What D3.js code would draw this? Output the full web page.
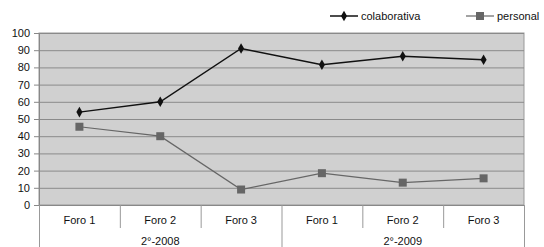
<!DOCTYPE html>
<html>
<head>
<script src="https://d3js.org/d3.v7.min.js"></script>
<style>
body { margin: 0; background: #fff; }
text { font-family: "Liberation Sans", Arial, sans-serif; font-size: 11px; fill: #111; }
</style>
</head>
<body>
<script>
// chart data
var foros = ["Foro 1", "Foro 2", "Foro 3", "Foro 1", "Foro 2", "Foro 3"];
var groups = ["2°-2008", "2°-2009"];
var colaborativa = [54, 60, 91, 81.5, 86.5, 84.5];
var personal = [45.5, 40, 9, 18.5, 13, 15.5];
var yTicks = [0, 10, 20, 30, 40, 50, 60, 70, 80, 90, 100];

var width = 544, height = 247;
var plotL = 39, plotR = 524, plotT = 33, plotB = 205;

var svg = d3.select("body").append("svg")
    .attr("width", width)
    .attr("height", height);

var x = d3.scaleBand().domain(d3.range(foros.length)).range([plotL, plotR]);
var y = d3.scaleLinear().domain([0, 100]).range([plotB, plotT]);

// plot background
svg.append("rect")
    .attr("x", plotL).attr("y", plotT)
    .attr("width", plotR - plotL).attr("height", plotB - plotT)
    .attr("fill", "#d0d0d0")
    .attr("stroke", "#999");

// grid lines
svg.selectAll(".grid").data(yTicks).enter().append("line")
    .attr("x1", plotL).attr("x2", plotR)
    .attr("y1", function(d) { return y(d) + 0.5; })
    .attr("y2", function(d) { return y(d) + 0.5; })
    .attr("stroke", "#8a8a8a")
    .attr("stroke-width", 1);

// y axis
var yAxis = d3.axisLeft(y).tickValues(yTicks).tickSize(5).tickPadding(4);
var ga = svg.append("g").attr("transform", "translate(" + plotL + ",0)").call(yAxis);
ga.select(".domain").attr("stroke", "#888");
ga.selectAll(".tick line").attr("stroke", "#888");
ga.selectAll("text").style("font-size", "11px").attr("fill", "#111");

// x axis category separators
svg.append("line").attr("x1", plotL).attr("x2", plotR)
    .attr("y1", plotB + 0.5).attr("y2", plotB + 0.5).attr("stroke", "#888");
svg.selectAll(".sep").data(d3.range(foros.length + 1)).enter().append("line")
    .attr("x1", function(i) { return (i < foros.length ? x(i) : plotR) + 0.5; })
    .attr("x2", function(i) { return (i < foros.length ? x(i) : plotR) + 0.5; })
    .attr("y1", plotB)
    .attr("y2", function(i) { return i % 3 == 0 ? height : 228; })
    .attr("stroke", "#999");

svg.selectAll(".cat").data(foros).enter().append("text")
    .attr("x", function(d, i) { return x(i) + x.bandwidth() / 2; })
    .attr("y", 224)
    .attr("text-anchor", "middle")
    .text(function(d) { return d; });

svg.selectAll(".grp").data(groups).enter().append("text")
    .attr("x", function(d, i) { return x(i * 3) + x.bandwidth() * 1.5; })
    .attr("y", 245)
    .attr("text-anchor", "middle")
    .text(function(d) { return d; });

// lines
var line = d3.line()
    .x(function(d, i) { return x(i) + x.bandwidth() / 2; })
    .y(function(d) { return y(d); });

svg.append("path").datum(personal)
    .attr("d", line).attr("fill", "none")
    .attr("stroke", "#666").attr("stroke-width", 1.2);
svg.selectAll(".pm").data(personal).enter().append("rect")
    .attr("x", function(d, i) { return x(i) + x.bandwidth() / 2 - 4; })
    .attr("y", function(d) { return y(d) - 4; })
    .attr("width", 8).attr("height", 8)
    .attr("fill", "#666");

svg.append("path").datum(colaborativa)
    .attr("d", line).attr("fill", "none")
    .attr("stroke", "#111").attr("stroke-width", 1.5);
var diamond = d3.symbol().type(d3.symbolDiamond).size(32);
svg.selectAll(".cm").data(colaborativa).enter().append("path")
    .attr("d", diamond)
    .attr("transform", function(d, i) {
        return "translate(" + (x(i) + x.bandwidth() / 2) + "," + y(d) + ")";
    })
    .attr("fill", "#111");

// legend
var lg = svg.append("g");
lg.append("line").attr("x1", 330).attr("x2", 358).attr("y1", 16).attr("y2", 16)
    .attr("stroke", "#111").attr("stroke-width", 1.5);
lg.append("path").attr("d", diamond).attr("transform", "translate(344,16)").attr("fill", "#111");
lg.append("text").attr("x", 361).attr("y", 20).text("colaborativa");

lg.append("line").attr("x1", 466).attr("x2", 494).attr("y1", 16).attr("y2", 16)
    .attr("stroke", "#666").attr("stroke-width", 1.2);
lg.append("rect").attr("x", 476).attr("y", 12).attr("width", 8).attr("height", 8).attr("fill", "#666");
lg.append("text").attr("x", 497).attr("y", 20).text("personal");
</script>
</body>
</html>
